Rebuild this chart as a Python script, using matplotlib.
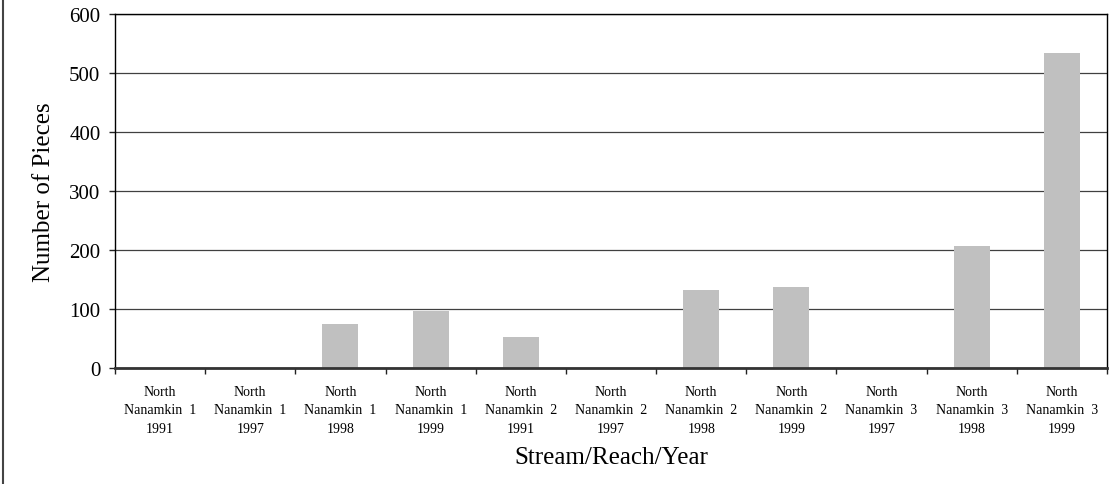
import numpy as np
import matplotlib
matplotlib.use("Agg")
import matplotlib.pyplot as plt
from matplotlib.lines import Line2D

plt.rcParams['font.family'] = ['Liberation Serif', 'DejaVu Serif']

streams = ["North\nNanamkin  1", "North\nNanamkin  1", "North\nNanamkin  1", "North\nNanamkin  1",
           "North\nNanamkin  2", "North\nNanamkin  2", "North\nNanamkin  2", "North\nNanamkin  2",
           "North\nNanamkin  3", "North\nNanamkin  3", "North\nNanamkin  3"]
years = ["1991", "1997", "1998", "1999", "1991", "1997", "1998", "1999", "1997", "1998", "1999"]
pieces = [0, 0, 75, 97, 52, 0, 132, 137, 0, 207, 534]

labels = [s + "\n" + y for s, y in zip(streams, years)]
x = np.arange(len(pieces))

fig = plt.figure(figsize=(11.11, 4.85), dpi=100)
ax = fig.add_axes([0.1035, 0.2392, 0.8929, 0.7298])

ax.bar(x, pieces, width=0.4, color='#c0c0c0', zorder=2)

ax.set_xlim(-0.5, len(pieces) - 0.5)
ax.set_ylim(0, 600)
ax.set_yticks(np.arange(0, 601, 100))
ax.yaxis.grid(True, color='#404040', linewidth=0.9)
ax.set_axisbelow(True)

# ticks between categories, labels at centers
ax.set_xticks(np.arange(-0.5, len(pieces), 1))
ax.set_xticklabels([])
ax.set_xticks(x, minor=True)
ax.set_xticklabels(labels, minor=True, fontsize=10, linespacing=1.57)
ax.tick_params(axis='x', which='major', direction='out', length=4, width=1, color='#222222')
ax.tick_params(axis='x', which='minor', length=0, pad=12)
ax.tick_params(axis='y', direction='out', length=4.5, width=1, labelsize=15, pad=6, color='#222222')

for side in ['top', 'right', 'left']:
    ax.spines[side].set_color('black')
    ax.spines[side].set_linewidth(1)
ax.spines['bottom'].set_color('#333333')
ax.spines['bottom'].set_linewidth(2)

ax.set_ylabel("Number of Pieces", fontsize=18, labelpad=10)
ax.set_xlabel("Stream/Reach/Year", fontsize=18, labelpad=8)

fig.add_artist(Line2D([2.5 / 1111, 2.5 / 1111], [0, 1], color='#444444', linewidth=1.5))

fig.savefig("out.png", dpi=100)
